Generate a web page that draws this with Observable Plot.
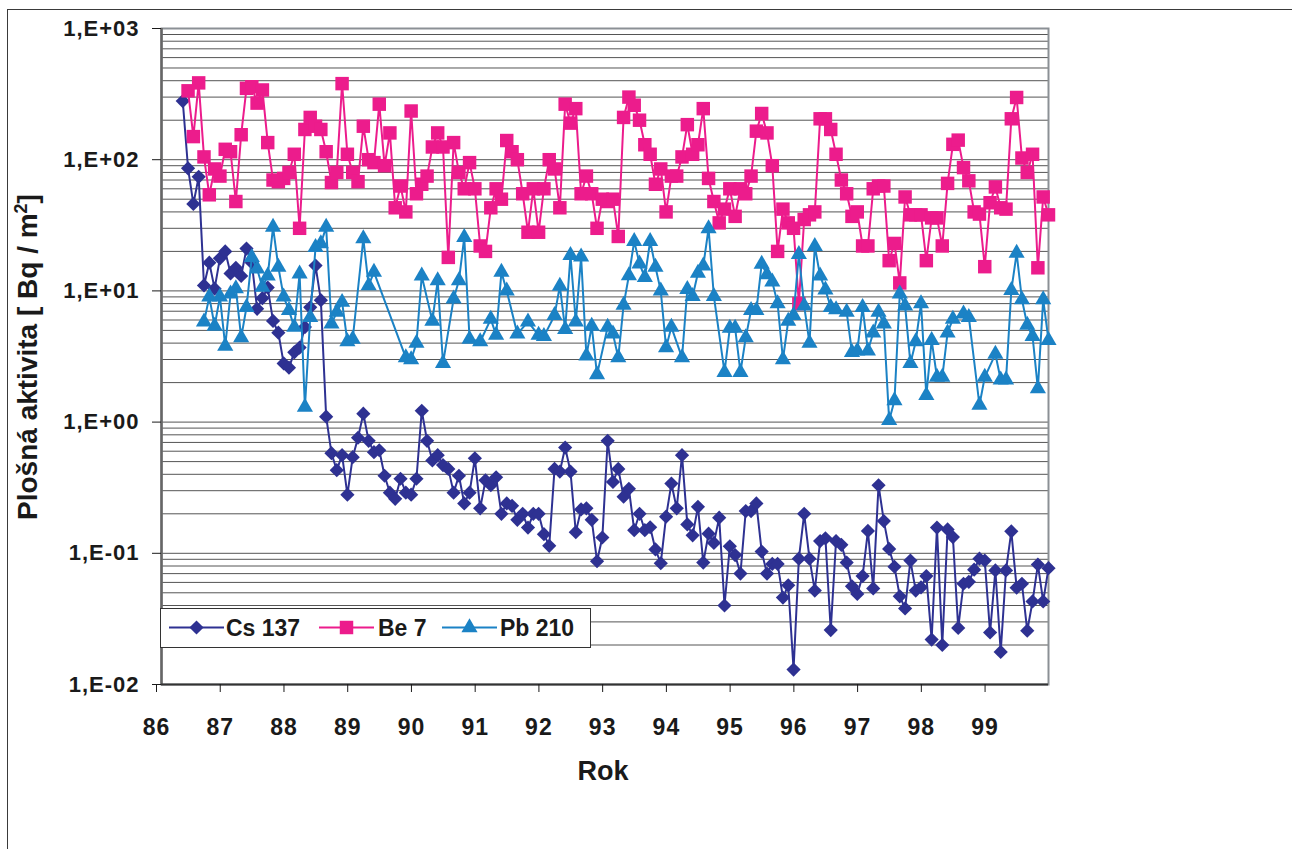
<!DOCTYPE html>
<html><head><meta charset="utf-8">
<script src="https://cdn.jsdelivr.net/npm/d3@7"></script>
<script src="https://cdn.jsdelivr.net/npm/@observablehq/plot@0.6"></script>
<style>
body{margin:0;background:#fff;}
#wrap{position:relative;width:1292px;height:849px;overflow:hidden;background:#fff;font-family:"Liberation Sans",Arial,sans-serif;}
#frame{position:absolute;left:7px;top:9px;width:1300px;height:860px;border:1.5px solid #3a3a3a;}
#legend{position:absolute;left:160px;top:608px;}
#chart{position:absolute;left:0;top:0;}
</style></head><body>
<div id="wrap"><div id="frame"></div><div id="chart"></div><div id="legend"></div></div>
<script>
// ---- data ----
const years = [86,87,88,89,90,91,92,93,94,95,96,97,98,99];
const yTicks = [0.01,0.1,1,10,100,1000];
const yTickLabels = ["1,E-02","1,E-01","1,E+00","1,E+01","1,E+02","1,E+03"];
const seriesNames = ["Cs 137","Be 7","Pb 210"];
const seriesColors = ["#2e3192","#ec1c8c","#1b82c5"];
const xTitle = "Rok";
const yTitleMain = "Plošná aktivita [ Bq / m";
const yTitleSup = "2";
const yTitleEnd = "]";
// first month of each series, counted in months from January 1986
const csStart = 4, beStart = 5, pbStart = 8;
const cs137 = [280,86,46,74,11,16.4,10.4,17.7,20,13.6,15,13,21,16.4,7.3,8.8,10.6,5.9,4.8,2.8,2.6,
  3.4,3.7,5.3,7.5,15.6,8.5,
  1.1,0.58,0.43,0.56,0.28,0.54,0.76,1.16,
  0.72,0.59,0.61,0.39,0.29,0.26,0.37,0.29,0.28,0.37,
  1.22,
  0.72,0.51,0.56,0.47,0.44,0.29,0.39,0.24,0.29,0.53,0.22,0.36,0.33,0.38,0.20,0.24,0.23,0.18,0.20,0.157,0.2,0.2,0.14,
  0.114,
  0.44,0.42,0.64,0.42,0.145,0.216,0.22,0.18,0.087,0.132,
  0.72,
  0.35,0.44,0.27,0.31,0.15,0.2,0.15,0.158,0.107,0.084,0.19,0.34,0.22,
  0.56,
  0.166,0.137,0.226,0.085,0.141,0.12,0.187,0.040,0.113,0.097,0.07,0.21,0.21,0.24,0.103,0.07,0.083,0.083,0.046,0.057,0.013,0.091,0.2,
  0.091,0.052,0.124,0.13,0.026,0.124,0.116,0.085,0.056,0.049,0.067,0.148,0.054,0.33,0.176,0.108,0.079,0.047,0.038,0.088,0.052,0.055,0.067,
  0.022,0.157,0.020,0.152,0.133,0.027,0.0586,0.0606,0.075,0.091,0.088,0.0249,0.074,0.0177,0.074,0.147,0.0547,0.0586,0.0257,0.043,0.082,0.043,0.077];
const be7 = [335,150,385,105,54,85,75,120,115,48,
  155,350,360,270,340,135,70,68,72,80,
  110,30,170,210,180,170,115,67,80,380,
  110,80,68,180,100,95,265,90,160,43,
  63,40,235,55,65,75,125,160,125,18,
  135,80,60,95,60,22,20,43,60,50,
  140,115,100,55,28,60,28,60,100,85,
  43,265,190,245,55,75,55,30,50,48,
  50,26,210,300,260,200,130,110,65,85,
  40,75,75,105,185,110,130,245,72,48,
  33,42,60,37,60,55,75,165,225,160,
  90,20,42,33,30,
  8,35,38,40,205,205,170,110,70,55,37,40,22,22,60,63,63,17,23,11.5,52,38,38,38,17,36,36,22,66,131,141,87,69,40,38.5,15.3,47,62,43,42,205,298,103,80,110,15,52,38];
const pb210 = [5.8,9,5.4,9,3.8,9.5,10.4,4.4,7.5,18,14.7,10.7,13,30.6,15.2,9,7.1,
  5.3,13.5,1.3,6.3,21.5,22.9,30.6,
  5.6,6.9,8.2,4.1,4.3,null,25,11,13.9,
  null,null,null,null,null,
  3.1,3.0,4.0,13,
  null,5.9,12,2.8,null,8.7,12,25.6,4.3,null,4.1,null,6.1,4.6,13.9,10,null,4.7,null,5.8,null,4.6,
  4.5,null,6.5,10.9,5.1,18.7,5.8,18.2,3.2,5.4,2.3,null,5.3,4.7,3.1,7.8,13.1,23.9,16.1,12.7,23.9,15.2,10,3.7,5.3,
  null,
  3.1,10.3,9.1,13.7,15.5,29.9,9.1,null,2.4,5.2,5.2,2.4,4.4,7.1,7.1,16,13.3,11.7,8,3,5.9,6.5,19,
  7.7,4,21.9,13,10.2,7.5,7.2,null,6.9,3.4,3.5,7.5,3.5,4.8,6.9,5.6,1.03,1.46,9.5,7.7,2.8,4.1,8,1.6,4.2,
  2.2,2.2,4.8,6.1,null,6.7,6.3,null,1.35,2.2,null,3.3,2.1,2.1,10.1,19.4,8.6,5.5,4.5,1.8,8.6,4.2];

// ---- build rows ----
function rows(vals, start){
  return vals.map((v,i)=>({x: years[0] + (start+i)/12, v})).filter(d=>d.v!=null);
}
const csRows = rows(cs137, csStart), beRows = rows(be7, beStart), pbRows = rows(pb210, pbStart);
const lastMonth = Math.max(csStart+cs137.length, beStart+be7.length, pbStart+pb210.length) - 1;
const gridVals = [];
for (let e=-2;e<=2;e++) for (let m=1;m<=9;m++) gridVals.push(+(m*Math.pow(10,e)).toPrecision(3));
gridVals.push(1000);

const symbols = ["diamond2","square","triangle"];
const radii = [6.4, 7.6, 6.0];
const allRows = [csRows, beRows, pbRows];

const marks = [
  Plot.ruleY(gridVals, {stroke:"#555", strokeWidth:1}),
  Plot.frame({stroke:"#8b9095", strokeWidth:2}),
  Plot.ruleX([years[0]], {stroke:"#666", strokeWidth:2.5}),
  Plot.ruleY([yTicks[0]], {stroke:"#333", strokeWidth:2}),
  Plot.axisY({ticks: yTicks, tickFormat: d => yTickLabels[yTicks.indexOf(d)], tickSize: 9, tickPadding: 13, label: null}),
  Plot.axisX({ticks: years, tickFormat: d => String(d), tickSize: 8, tickPadding: 26, label: null, dx: -5, fontSize: 23})
];
allRows.forEach((r,i)=>{
  marks.push(Plot.line(r, {x:"x", y:"v", stroke: seriesColors[i], strokeWidth: 2}));
  marks.push(Plot.dot(r, {x:"x", y:"v", symbol: symbols[i], r: radii[i], fill: seriesColors[i], stroke: "none"}));
});

const svg = Plot.plot({
  width: 1292, height: 849,
  marginLeft: 161, marginRight: 244, marginTop: 28, marginBottom: 165,
  x: {domain: [years[0], years[0] + lastMonth/12]},
  y: {type: "log", domain: [yTicks[0], yTicks[yTicks.length-1]]},
  style: {fontFamily: "'Liberation Sans', Arial, sans-serif", fontSize: "22px", fontWeight: "bold", color: "#1a1a1a", background: "transparent", overflow: "visible", letterSpacing: "1px"},
  marks
});
document.getElementById("chart").appendChild(svg);

// axis titles
const s = d3.select(svg);
s.append("text").attr("x", 603).attr("y", 780).attr("text-anchor","middle")
  .attr("font-size", 27).attr("font-weight","bold").attr("fill","#1a1a1a").style("letter-spacing","0").text(xTitle);
const yt = s.append("text").attr("transform","translate(37,357) rotate(-90)").attr("text-anchor","middle")
  .attr("font-size", 28).attr("font-weight","bold").attr("fill","#1a1a1a").style("letter-spacing","0");
yt.append("tspan").text(yTitleMain);
yt.append("tspan").attr("dy",-10).attr("font-size",18).text(yTitleSup);
yt.append("tspan").attr("dy",10).text(yTitleEnd);

// legend
const L = d3.select("#legend").append("svg").attr("width",431).attr("height",40);
L.append("rect").attr("x",0.5).attr("y",0.5).attr("width",430).attr("height",39).attr("fill","#fff").attr("stroke","#333").attr("stroke-width",1);
const lx = [9, 159, 282];
const tx = [66, 218, 340];
seriesNames.forEach((n,i)=>{
  const g = L.append("g");
  g.append("line").attr("x1",lx[i]).attr("x2",lx[i]+55).attr("y1",19.5).attr("y2",19.5).attr("stroke",seriesColors[i]).attr("stroke-width",2);
  const sym = {diamond2: d3.symbolDiamond2, square: d3.symbolSquare, triangle: d3.symbolTriangle}[symbols[i]];
  g.append("path").attr("d", d3.symbol(sym, Math.PI*radii[i]*radii[i])()).attr("transform",`translate(${lx[i]+27.5},19.5)`).attr("fill",seriesColors[i]);
  g.append("text").attr("x",tx[i]).attr("y",28).attr("font-size",23).attr("font-weight","bold")
    .attr("font-family","'Liberation Sans', Arial, sans-serif").attr("fill","#1a1a1a").text(n);
});
</script>
</body></html>
